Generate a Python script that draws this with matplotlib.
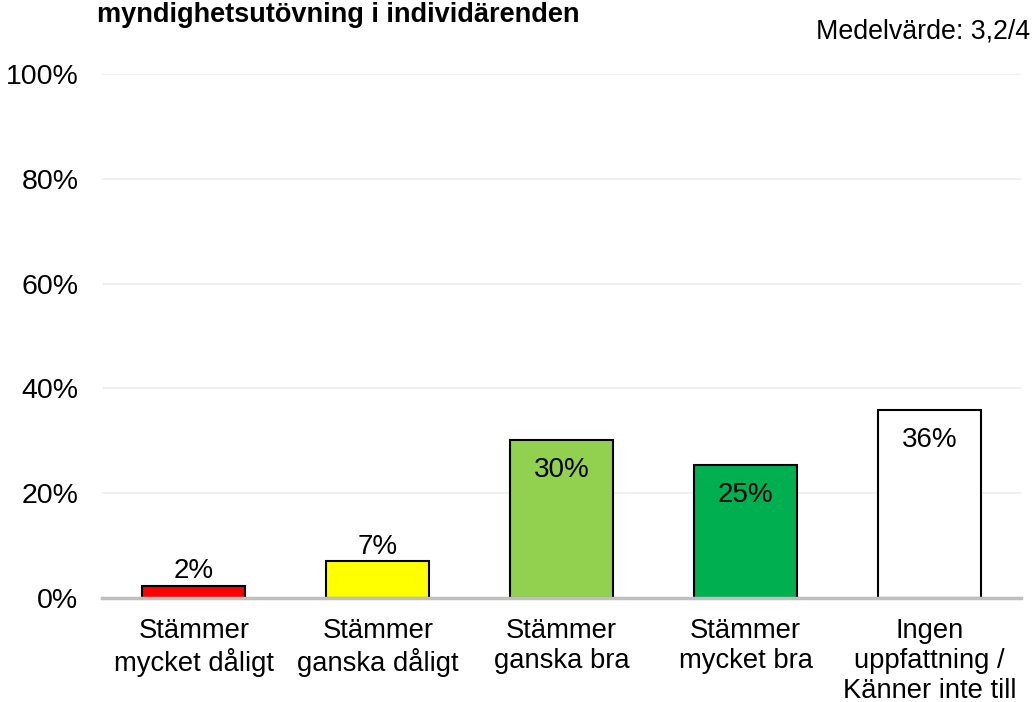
import matplotlib
matplotlib.use('Agg')
import matplotlib.pyplot as plt

plt.rcParams['font.family'] = ['Liberation Sans', 'DejaVu Sans']

categories = ['Stämmer\nmycket dåligt', 'Stämmer\nganska dåligt', 'Stämmer\nganska bra',
              'Stämmer\nmycket bra', 'Ingen\nuppfattning /\nKänner inte till']
values = [2.4, 7.1, 30.1, 25.4, 35.8]
colors = ['#FF0000', '#FFFF00', '#92D050', '#00B050', '#FFFFFF']
inside = [False, False, True, True, True]
yticks = [0, 20, 40, 60, 80, 100]

fig = plt.figure(figsize=(10.33, 7.02), dpi=100)
ax = fig.add_axes([0.0987, 0.148, 0.890, 0.7466])

x = range(len(categories))
bars = ax.bar(x, values, width=0.56, color=colors, edgecolor='black', linewidth=1.5, zorder=3)

for b, v, ins in zip(bars, values, inside):
    cx = b.get_x() + b.get_width() / 2
    if ins:
        ax.annotate(f"{v:.0f}%", (cx, v), xytext=(0, -12), textcoords='offset points',
                    ha='center', va='top', fontsize=20, zorder=4)
    else:
        ax.annotate(f"{v:.0f}%", (cx, v), xytext=(0, 1), textcoords='offset points',
                    ha='center', va='bottom', fontsize=20, zorder=4)

ax.set_xlim(-0.5, len(categories) - 0.5)
ax.set_ylim(0, 100)
ax.set_yticks(yticks)
ax.set_yticklabels([f"{t}%" for t in yticks], fontsize=20.5)
ax.set_xticks(list(x))
ax.set_xticklabels(categories, fontsize=19.7, linespacing=1.2)
ax.tick_params(axis='both', length=0)
ax.tick_params(axis='y', pad=17)
ax.tick_params(axis='x', pad=14)

ax.grid(axis='y', color='#EFEFEF', linewidth=1.3, zorder=0)
for s in ['top', 'right', 'left']:
    ax.spines[s].set_visible(False)
ax.spines['bottom'].set_color('#BFBFBF')
ax.spines['bottom'].set_linewidth(2.5)
ax.spines['bottom'].set_zorder(5)

fig.text(97 / 1033, 1 - 22 / 702, 'myndighetsutövning i individärenden',
         fontsize=19.5, fontweight='bold', ha='left', va='baseline')
fig.text(1030 / 1033, 1 - 38 / 702, 'Medelvärde: 3,2/4',
         fontsize=19.3, ha='right', va='baseline')

fig.savefig('out.png', dpi=100)
